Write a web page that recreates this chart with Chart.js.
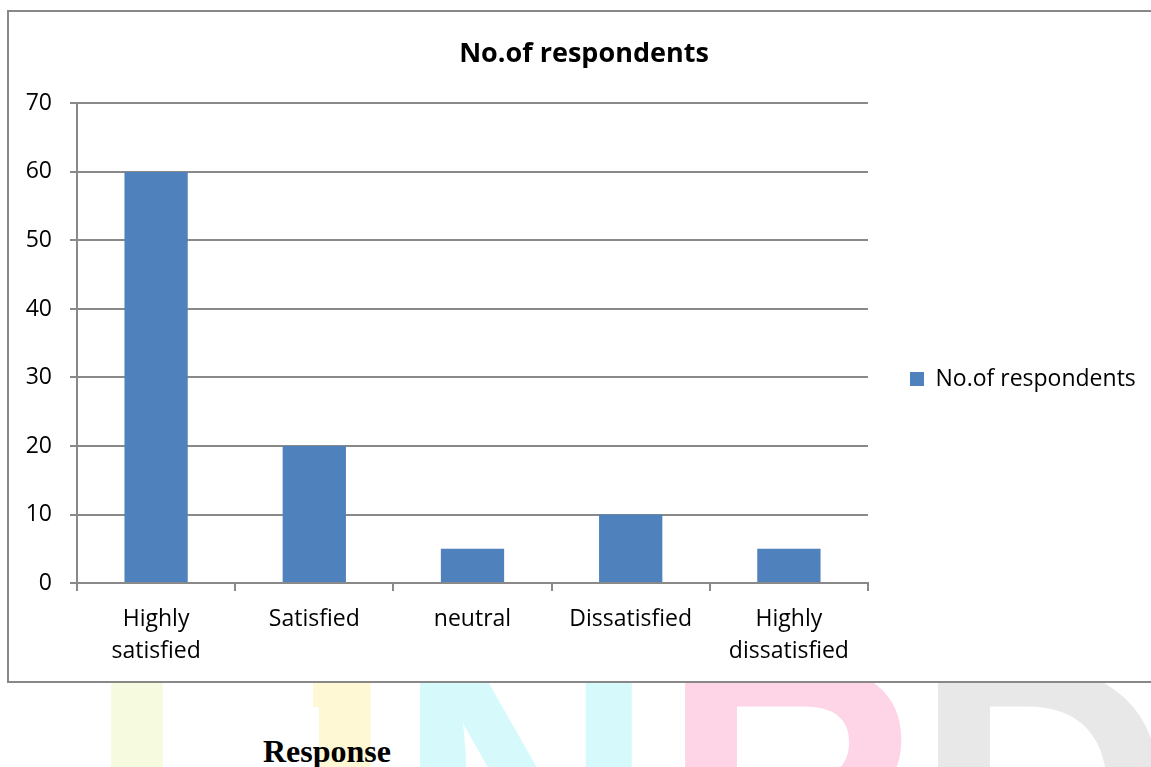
<!DOCTYPE html>
<html>
<head>
<meta charset="utf-8">
<title>No.of respondents</title>
<script src="https://cdn.jsdelivr.net/npm/chart.js@4.4.1/dist/chart.umd.min.js"></script>
<style>
  html, body { margin: 0; padding: 0; background: #fff; }
  body { position: relative; width: 1151px; height: 767px; overflow: hidden; }
  .wm { position: absolute; top: 609px; font: bold 360px/1 "Liberation Sans", Arial, sans-serif; }
  #box {
    position: absolute; left: 7px; top: 10px; width: 1160px; height: 673px;
    box-sizing: border-box; border: 2px solid #888; background: #fff;
  }
  #box canvas { display: block; }
  #caption {
    position: absolute; left: 263px; top: 735px;
    font: bold 32px/1 "Liberation Serif", "Times New Roman", serif; color: #000;
  }
</style>
</head>
<body>
<!-- faint page watermark lettering behind the chart frame -->
<div class="wm" style="left:87px;color:#f6fbe0">I</div>
<div class="wm" style="left:195px;color:#fef8d4;clip-path:inset(0 0 0 118px)">J</div>
<div class="wm" style="left:396px;color:#d6fafc">N</div>
<div class="wm" style="left:661px;color:#fdd5e7">R</div>
<div class="wm" style="left:914px;color:#e8e8e8">D</div>

<div id="box"><canvas id="chart" width="1156" height="669"></canvas></div>
<div id="caption">Response</div>

<script>
// Survey responses
const categories = [['Highly', 'satisfied'], 'Satisfied', 'neutral', 'Dissatisfied', ['Highly', 'dissatisfied']];
const respondents = [60, 20, 5, 10, 5];
const seriesName = 'No.of respondents';
const yTicks = { min: 0, max: 70, step: 10 };

const axisGray = '#898989';
const barBlue = '#4f81bd';
Chart.defaults.font.family = '"Open Sans", sans-serif';
Chart.defaults.color = '#000';

// Places the title and the legend block at fixed spots in the frame
const blockPlacement = {
  id: 'blockPlacement',
  afterLayout(chart, args, opts) {
    const tb = chart.titleBlock;
    if (tb) {
      const tdx = opts.titleCenterX - (tb.left + tb.right) / 2;
      tb.left += tdx; tb.right += tdx;
    }
    const lg = chart.legend;
    if (lg) {
      const dx = opts.legendItemLeft - (lg.left + lg.options.labels.padding);
      const dy = opts.legendCenterY - (lg.top + lg.bottom) / 2;
      lg.left += dx; lg.right += dx;
      lg.top += dy; lg.bottom += dy;
    }
  }
};

new Chart(document.getElementById('chart'), {
  type: 'bar',
  data: {
    labels: categories,
    datasets: [{
      label: seriesName,
      data: respondents,
      backgroundColor: barBlue,
      borderWidth: 0,
      categoryPercentage: 0.4,
      barPercentage: 1
    }]
  },
  options: {
    responsive: false,
    animation: false,
    layout: { padding: { left: 0, right: 57, top: 0, bottom: 2 } },
    plugins: {
      title: {
        display: true,
        text: seriesName,
        color: '#000',
        font: { size: 27, weight: 'bold' },
        padding: { top: 26, bottom: 33 }
      },
      legend: {
        position: 'right',
        maxWidth: 240,
        labels: {
          boxWidth: 14,
          boxHeight: 14,
          padding: 10,
          color: '#000',
          font: { size: 23 }
        }
      },
      tooltip: { enabled: false },
      blockPlacement: { titleCenterX: 575, legendItemLeft: 901, legendCenterY: 367 }
    },
    scales: {
      x: {
        grid: {
          display: true,
          drawOnChartArea: false,
          drawTicks: true,
          tickLength: 8,
          offset: true,
          color: axisGray,
          lineWidth: 2
        },
        border: { color: axisGray, width: 2 },
        ticks: {
          color: '#000',
          font: { size: 23, lineHeight: 1.39 },
          padding: 12,
          maxRotation: 0,
          autoSkip: false
        }
      },
      y: {
        min: yTicks.min,
        max: yTicks.max,
        afterFit(scale) { scale.width = 68; },
        grid: { color: axisGray, lineWidth: 2, tickLength: 7 },
        border: { color: axisGray, width: 2 },
        ticks: {
          stepSize: yTicks.step,
          color: '#000',
          font: { size: 23 },
          padding: 18
        }
      }
    }
  },
  plugins: [blockPlacement]
});
</script>
</body>
</html>
